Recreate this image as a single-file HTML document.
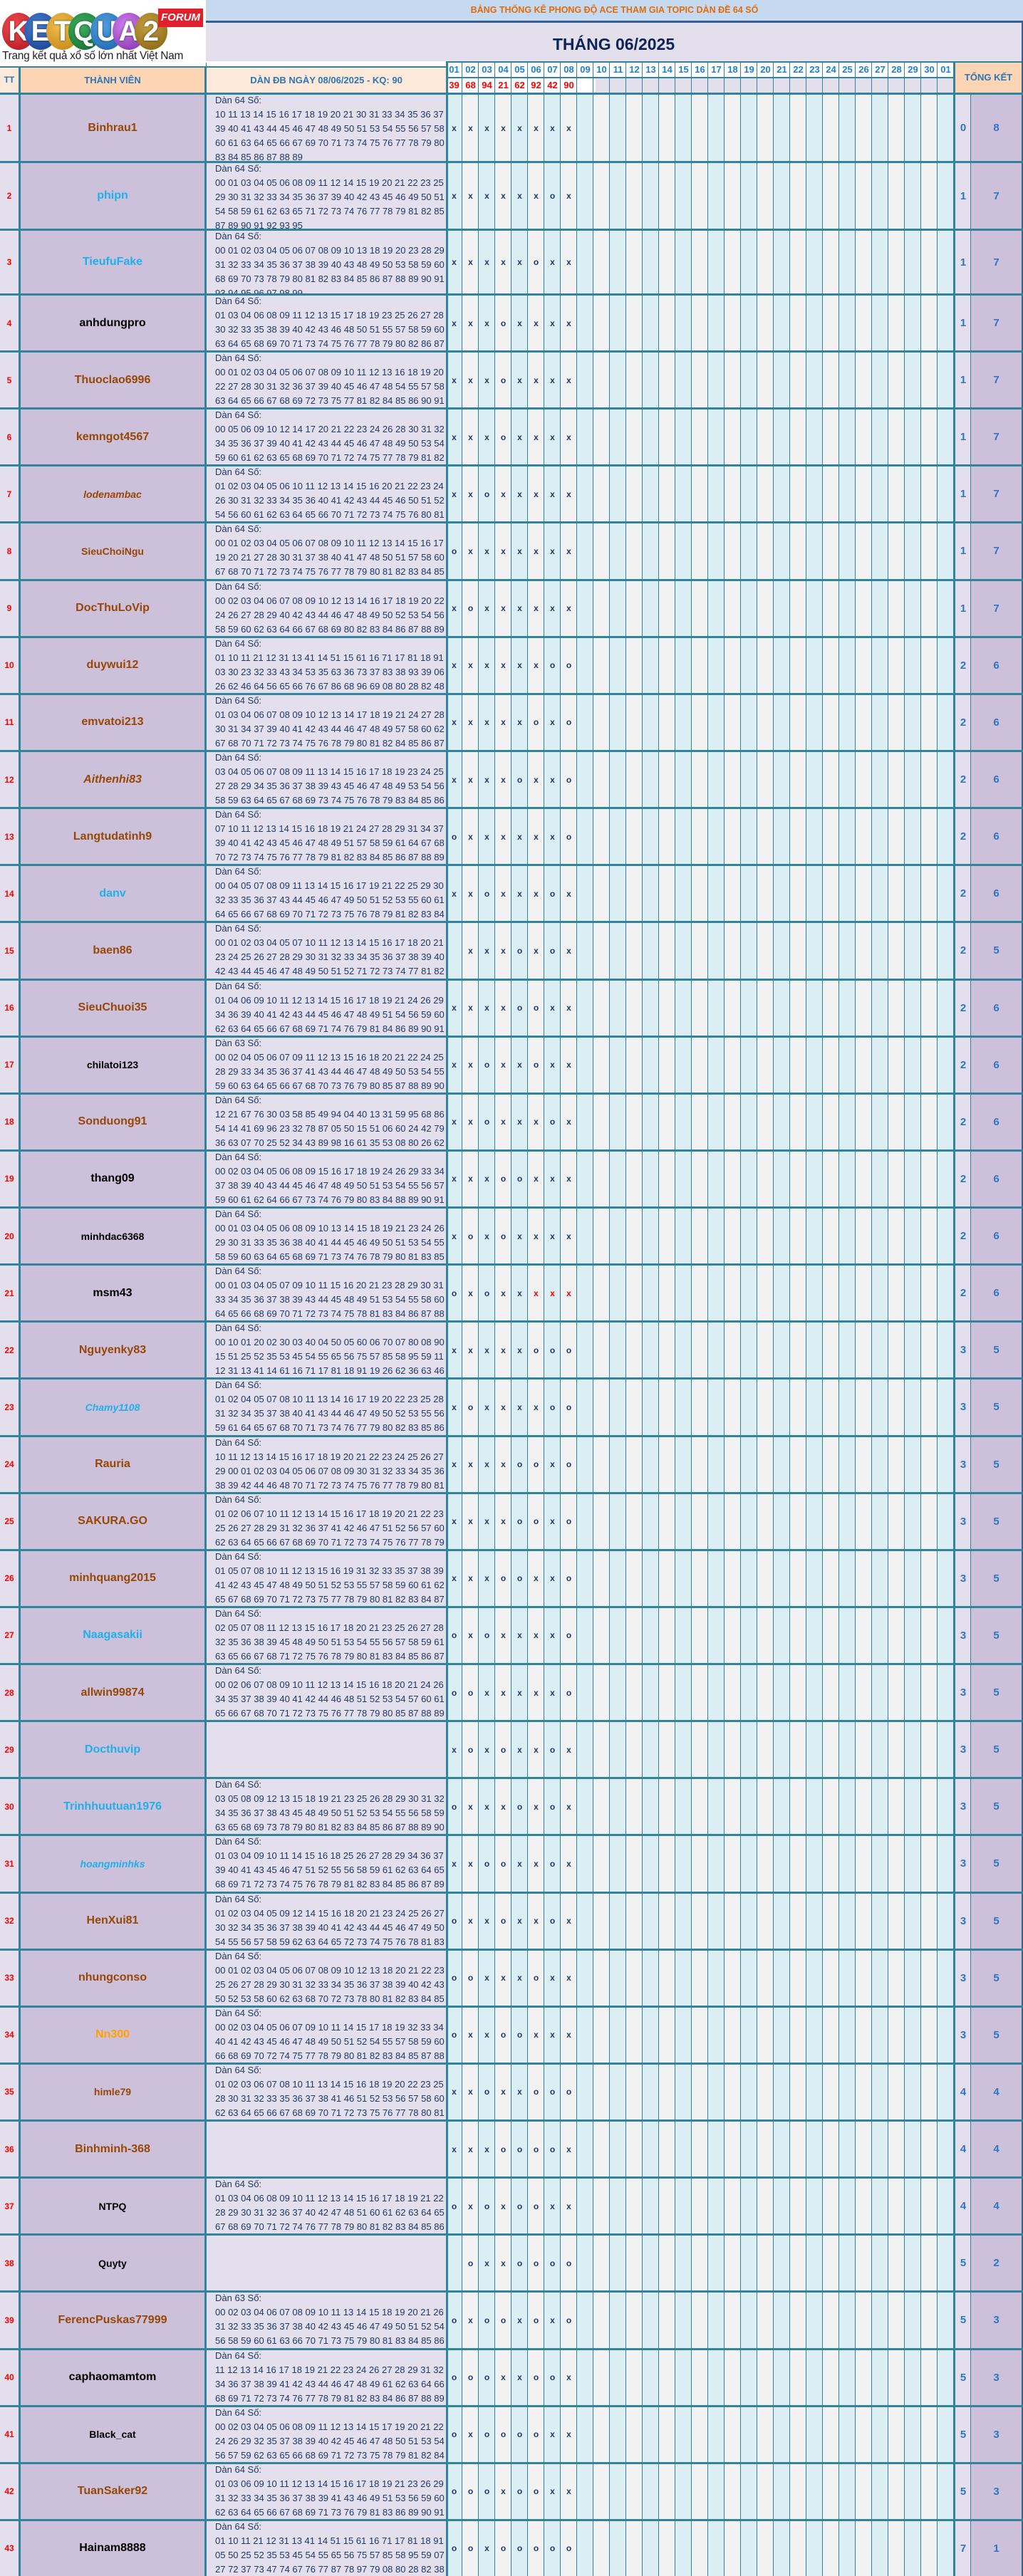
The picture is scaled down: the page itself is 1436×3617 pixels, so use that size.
<!DOCTYPE html>
<html><head><meta charset="utf-8">
<style>
*{margin:0;padding:0;box-sizing:border-box}
body{width:1436px;height:3617px;position:relative;overflow:hidden;background:#fff;font-family:"Liberation Sans",sans-serif}
.abs{position:absolute}
.r{position:absolute;left:0;width:1436px;border-top:3px solid #31849b}
.r>*{position:absolute;top:0;bottom:0;display:flex;align-items:center;justify-content:center;font-style:normal}
.t{left:0;width:26px;color:#f00;font-size:12px;font-weight:bold}
.n{left:29px;width:258px;font-size:16px;font-weight:bold;white-space:nowrap}
.n.sm{font-size:14px}
.n.it{font-style:italic}
.br{color:#974706}.bl{color:#1fb0ec}.bk{color:#000}.or{color:#ffa200}
.r>.d{left:302px;width:324px;top:-2px;display:block;font-size:13px;line-height:20px;color:#1f3864;white-space:nowrap;overflow:hidden}
.m{left:626px;width:713px;justify-content:flex-start!important}
.m i{display:block;width:23px;text-align:center;font-style:normal;font-weight:bold;font-size:12px;color:#1f3864}
.m i.rd{color:#f00}
.c{left:1341px;width:22px;color:#2e75c6;font-size:15px;font-weight:bold}
.s{left:1363px;width:71px;color:#2e75c6;font-size:15px;font-weight:bold}
.hd{position:absolute;top:88px;height:20px;width:23px;text-align:center;font-size:13px;font-weight:bold;color:#1f7fd0;line-height:20px}
.rs{position:absolute;top:110px;height:20px;width:23px;text-align:center;font-size:13px;font-weight:bold;color:#f00;line-height:20px}
.ball{position:absolute;top:18px;width:46px;height:52px;border-radius:50%;color:#fff;font-weight:bold;font-size:40px;line-height:52px;text-align:center;text-shadow:0 0 3px rgba(0,0,0,.6)}
</style></head><body>
<!-- column backgrounds -->
<div class="abs" style="left:0;top:93px;width:26px;height:3524px;background:#e4dfec"></div>
<div class="abs" style="left:26px;top:93px;width:3px;height:3524px;background:#31849b"></div>
<div class="abs" style="left:29px;top:93px;width:258px;height:3524px;background:#ccc0da"></div>
<div class="abs" style="left:287px;top:88px;width:3px;height:3529px;background:#31849b"></div>
<div class="abs" style="left:290px;top:93px;width:337px;height:3524px;background:#e4dfec"></div>
<div class="abs" style="left:626px;top:130px;width:713px;height:3487px;background:repeating-linear-gradient(90deg,#daeef3 0 22px,#31849b 22px 23px,#f2f2f2 23px 45px,#31849b 45px 46px)"></div>
<div class="abs" style="left:626px;top:86px;width:3px;height:3531px;background:#31849b"></div>
<div class="abs" style="left:1339px;top:86px;width:2px;height:3531px;background:#31849b"></div>
<div class="abs" style="left:1341px;top:130px;width:22px;height:3487px;background:#e4dfec"></div>
<div class="abs" style="left:1362px;top:130px;width:1px;height:3487px;background:#31849b"></div>
<div class="abs" style="left:1363px;top:130px;width:71px;height:3487px;background:#ccc0da"></div>
<div class="abs" style="left:1434px;top:0;width:2px;height:3617px;background:#366092"></div>

<!-- logo -->
<div class="abs" style="left:0;top:0;width:289px;height:93px;background:#fff"></div>
<div class="ball" style="left:3px;background:radial-gradient(circle at 40% 35%,#f05050,#b01020)">K</div>
<div class="ball" style="left:34px;background:radial-gradient(circle at 40% 35%,#4a7fd0,#123c8a)">E</div>
<div class="ball" style="left:65px;background:radial-gradient(circle at 40% 35%,#f0c050,#c08010)">T</div>
<div class="ball" style="left:96px;background:radial-gradient(circle at 40% 35%,#40b060,#0d6a2a)">Q</div>
<div class="ball" style="left:127px;background:radial-gradient(circle at 40% 35%,#50a0e0,#1a60a8)">U</div>
<div class="ball" style="left:158px;background:radial-gradient(circle at 40% 35%,#d080f0,#8030a8)">A</div>
<div class="ball" style="left:189px;background:radial-gradient(circle at 40% 35%,#c8a040,#806010)">2</div>
<div class="abs" style="left:222px;top:12px;width:63px;height:26px;background:#e0202a;color:#fff;font-weight:bold;font-style:italic;font-size:15px;line-height:26px;text-align:center">FORUM</div>
<div class="abs" style="left:3px;top:70px;font-size:15.5px;color:#222;white-space:nowrap;letter-spacing:-0.3px">Trang kết quả xổ số lớn nhất Việt Nam</div>

<!-- title -->
<div class="abs" style="left:289px;top:0;width:1147px;height:29px;background:#c5d9f1;color:#e26b0a;font-weight:bold;font-size:12.5px;line-height:29px;text-align:center">BẢNG THỐNG KÊ PHONG ĐỘ ACE THAM GIA TOPIC DÀN ĐỀ 64 SỐ</div>
<div class="abs" style="left:289px;top:29px;width:1147px;height:3px;background:#366092"></div>
<div class="abs" style="left:289px;top:32px;width:1145px;height:54px;background:#e4dfec;color:#0f2456;font-weight:bold;font-size:23px;line-height:60px;text-align:center">THÁNG 06/2025</div>

<!-- header row -->
<div class="abs" style="left:0;top:93px;width:1434px;height:2px;background:#31849b"></div>
<div class="abs" style="left:0;top:95px;width:26px;height:35px;background:#fde9d9;color:#2e75b6;font-weight:bold;font-size:12px;line-height:35px;text-align:center">TT</div>
<div class="abs" style="left:29px;top:95px;width:258px;height:35px;background:#fcd5b4;color:#2e75b6;font-weight:bold;font-size:13px;line-height:35px;text-align:center">THÀNH VIÊN</div>
<div class="abs" style="left:290px;top:95px;width:336px;height:35px;background:#fde9d9;color:#2e75b6;font-weight:bold;font-size:13px;line-height:35px;text-align:center">DÀN ĐB NGÀY 08/06/2025 - KQ: 90</div>
<div class="abs" style="left:629px;top:88px;width:710px;height:20px;background:#fff"></div>
<div class="abs" style="left:629px;top:110px;width:207px;height:20px;background:#fff"></div>
<div class="abs" style="left:836px;top:110px;width:503px;height:20px;background:#e4dfec"></div>
<div class="abs" style="left:626px;top:88px;width:713px;height:42px;background:repeating-linear-gradient(90deg,transparent 0 22px,#31849b 22px 23px)"></div>
<div class="abs" style="left:626px;top:108px;width:713px;height:2px;background:#31849b"></div>
<div class="abs" style="left:626px;top:86px;width:808px;height:2px;background:#31849b"></div>
<div class="abs" style="left:1341px;top:88px;width:93px;height:42px;background:#fcd5b4;color:#2e75b6;font-weight:bold;font-size:13px;line-height:42px;text-align:center">TỔNG KẾT</div>

<div class="hd" style="left:626px">01</div><div class="hd" style="left:649px">02</div><div class="hd" style="left:672px">03</div><div class="hd" style="left:695px">04</div><div class="hd" style="left:718px">05</div><div class="hd" style="left:741px">06</div><div class="hd" style="left:764px">07</div><div class="hd" style="left:787px">08</div><div class="hd" style="left:810px">09</div><div class="hd" style="left:833px">10</div><div class="hd" style="left:856px">11</div><div class="hd" style="left:879px">12</div><div class="hd" style="left:902px">13</div><div class="hd" style="left:925px">14</div><div class="hd" style="left:948px">15</div><div class="hd" style="left:971px">16</div><div class="hd" style="left:994px">17</div><div class="hd" style="left:1017px">18</div><div class="hd" style="left:1040px">19</div><div class="hd" style="left:1063px">20</div><div class="hd" style="left:1086px">21</div><div class="hd" style="left:1109px">22</div><div class="hd" style="left:1132px">23</div><div class="hd" style="left:1155px">24</div><div class="hd" style="left:1178px">25</div><div class="hd" style="left:1201px">26</div><div class="hd" style="left:1224px">27</div><div class="hd" style="left:1247px">28</div><div class="hd" style="left:1270px">29</div><div class="hd" style="left:1293px">30</div><div class="hd" style="left:1316px">01</div>
<div class="rs" style="left:626px">39</div><div class="rs" style="left:649px">68</div><div class="rs" style="left:672px">94</div><div class="rs" style="left:695px">21</div><div class="rs" style="left:718px">62</div><div class="rs" style="left:741px">92</div><div class="rs" style="left:764px">42</div><div class="rs" style="left:787px">90</div>

<!-- rows -->
<div class="r" style="top:130px;height:96px"><b class="t">1</b><b class="n br">Binhrau1</b><div class="d">Dàn 64 Số:<br>10 11 13 14 15 16 17 18 19 20 21 30 31 33 34 35 36 37 38<br>39 40 41 43 44 45 46 47 48 49 50 51 53 54 55 56 57 58 59<br>60 61 63 64 65 66 67 69 70 71 73 74 75 76 77 78 79 80 81<br>83 84 85 86 87 88 89</div><div class="m"><i>x</i><i>x</i><i>x</i><i>x</i><i>x</i><i>x</i><i>x</i><i>x</i></div><b class="c">0</b><b class="s">8</b></div>
<div class="r" style="top:226px;height:95px"><b class="t">2</b><b class="n bl">phipn</b><div class="d">Dàn 64 Số:<br>00 01 03 04 05 06 08 09 11 12 14 15 19 20 21 22 23 25 28<br>29 30 31 32 33 34 35 36 37 39 40 42 43 45 46 49 50 51 52<br>54 58 59 61 62 63 65 71 72 73 74 76 77 78 79 81 82 85 86<br>87 89 90 91 92 93 95</div><div class="m"><i>x</i><i>x</i><i>x</i><i>x</i><i>x</i><i>x</i><i>o</i><i>x</i></div><b class="c">1</b><b class="s">7</b></div>
<div class="r" style="top:321px;height:91px"><b class="t">3</b><b class="n bl">TieufuFake</b><div class="d">Dàn 64 Số:<br>00 01 02 03 04 05 06 07 08 09 10 13 18 19 20 23 28 29 30<br>31 32 33 34 35 36 37 38 39 40 43 48 49 50 53 58 59 60 63<br>68 69 70 73 78 79 80 81 82 83 84 85 86 87 88 89 90 91 92<br>93 94 95 96 97 98 99</div><div class="m"><i>x</i><i>x</i><i>x</i><i>x</i><i>x</i><i>o</i><i>x</i><i>x</i></div><b class="c">1</b><b class="s">7</b></div>
<div class="r" style="top:412px;height:80.2px"><b class="t">4</b><b class="n bk">anhdungpro</b><div class="d">Dàn 64 Số:<br>01 03 04 06 08 09 11 12 13 15 17 18 19 23 25 26 27 28 29<br>30 32 33 35 38 39 40 42 43 46 48 50 51 55 57 58 59 60 62<br>63 64 65 68 69 70 71 73 74 75 76 77 78 79 80 82 86 87 89</div><div class="m"><i>x</i><i>x</i><i>x</i><i>o</i><i>x</i><i>x</i><i>x</i><i>x</i></div><b class="c">1</b><b class="s">7</b></div>
<div class="r" style="top:492px;height:80.2px"><b class="t">5</b><b class="n br">Thuoclao6996</b><div class="d">Dàn 64 Số:<br>00 01 02 03 04 05 06 07 08 09 10 11 12 13 16 18 19 20 21<br>22 27 28 30 31 32 36 37 39 40 45 46 47 48 54 55 57 58 59<br>63 64 65 66 67 68 69 72 73 75 77 81 82 84 85 86 90 91 92</div><div class="m"><i>x</i><i>x</i><i>x</i><i>o</i><i>x</i><i>x</i><i>x</i><i>x</i></div><b class="c">1</b><b class="s">7</b></div>
<div class="r" style="top:572px;height:80.2px"><b class="t">6</b><b class="n br">kemngot4567</b><div class="d">Dàn 64 Số:<br>00 05 06 09 10 12 14 17 20 21 22 23 24 26 28 30 31 32 33<br>34 35 36 37 39 40 41 42 43 44 45 46 47 48 49 50 53 54 56<br>59 60 61 62 63 65 68 69 70 71 72 74 75 77 78 79 81 82 83</div><div class="m"><i>x</i><i>x</i><i>x</i><i>o</i><i>x</i><i>x</i><i>x</i><i>x</i></div><b class="c">1</b><b class="s">7</b></div>
<div class="r" style="top:652px;height:80.2px"><b class="t">7</b><b class="n br sm it">lodenambac</b><div class="d">Dàn 64 Số:<br>01 02 03 04 05 06 10 11 12 13 14 15 16 20 21 22 23 24 25<br>26 30 31 32 33 34 35 36 40 41 42 43 44 45 46 50 51 52 53<br>54 56 60 61 62 63 64 65 66 70 71 72 73 74 75 76 80 81 82</div><div class="m"><i>x</i><i>x</i><i>o</i><i>x</i><i>x</i><i>x</i><i>x</i><i>x</i></div><b class="c">1</b><b class="s">7</b></div>
<div class="r" style="top:732px;height:80.2px"><b class="t">8</b><b class="n br sm">SieuChoiNgu</b><div class="d">Dàn 64 Số:<br>00 01 02 03 04 05 06 07 08 09 10 11 12 13 14 15 16 17 18<br>19 20 21 27 28 30 31 37 38 40 41 47 48 50 51 57 58 60 61<br>67 68 70 71 72 73 74 75 76 77 78 79 80 81 82 83 84 85 86</div><div class="m"><i>o</i><i>x</i><i>x</i><i>x</i><i>x</i><i>x</i><i>x</i><i>x</i></div><b class="c">1</b><b class="s">7</b></div>
<div class="r" style="top:812.6px;height:80.2px"><b class="t">9</b><b class="n br">DocThuLoVip</b><div class="d">Dàn 64 Số:<br>00 02 03 04 06 07 08 09 10 12 13 14 16 17 18 19 20 22 23<br>24 26 27 28 29 40 42 43 44 46 47 48 49 50 52 53 54 56 57<br>58 59 60 62 63 64 66 67 68 69 80 82 83 84 86 87 88 89 90</div><div class="m"><i>x</i><i>o</i><i>x</i><i>x</i><i>x</i><i>x</i><i>x</i><i>x</i></div><b class="c">1</b><b class="s">7</b></div>
<div class="r" style="top:892.8px;height:80.2px"><b class="t">10</b><b class="n br">duywui12</b><div class="d">Dàn 64 Số:<br>01 10 11 21 12 31 13 41 14 51 15 61 16 71 17 81 18 91 19<br>03 30 23 32 33 43 34 53 35 63 36 73 37 83 38 93 39 06 60<br>26 62 46 64 56 65 66 76 67 86 68 96 69 08 80 28 82 48 84</div><div class="m"><i>x</i><i>x</i><i>x</i><i>x</i><i>x</i><i>x</i><i>o</i><i>o</i></div><b class="c">2</b><b class="s">6</b></div>
<div class="r" style="top:972.9px;height:80.2px"><b class="t">11</b><b class="n br">emvatoi213</b><div class="d">Dàn 64 Số:<br>01 03 04 06 07 08 09 10 12 13 14 17 18 19 21 24 27 28 29<br>30 31 34 37 39 40 41 42 43 44 46 47 48 49 57 58 60 62 64<br>67 68 70 71 72 73 74 75 76 78 79 80 81 82 84 85 86 87 89</div><div class="m"><i>x</i><i>x</i><i>x</i><i>x</i><i>x</i><i>o</i><i>x</i><i>o</i></div><b class="c">2</b><b class="s">6</b></div>
<div class="r" style="top:1053px;height:80.2px"><b class="t">12</b><b class="n br it">Aithenhi83</b><div class="d">Dàn 64 Số:<br>03 04 05 06 07 08 09 11 13 14 15 16 17 18 19 23 24 25 26<br>27 28 29 34 35 36 37 38 39 43 45 46 47 48 49 53 54 56 57<br>58 59 63 64 65 67 68 69 73 74 75 76 78 79 83 84 85 86 87</div><div class="m"><i>x</i><i>x</i><i>x</i><i>x</i><i>o</i><i>x</i><i>x</i><i>o</i></div><b class="c">2</b><b class="s">6</b></div>
<div class="r" style="top:1133.1px;height:80.2px"><b class="t">13</b><b class="n br">Langtudatinh9</b><div class="d">Dàn 64 Số:<br>07 10 11 12 13 14 15 16 18 19 21 24 27 28 29 31 34 37 38<br>39 40 41 42 43 45 46 47 48 49 51 57 58 59 61 64 67 68 69<br>70 72 73 74 75 76 77 78 79 81 82 83 84 85 86 87 88 89 91</div><div class="m"><i>o</i><i>x</i><i>x</i><i>x</i><i>x</i><i>x</i><i>x</i><i>o</i></div><b class="c">2</b><b class="s">6</b></div>
<div class="r" style="top:1213.3px;height:80.2px"><b class="t">14</b><b class="n bl">danv</b><div class="d">Dàn 64 Số:<br>00 04 05 07 08 09 11 13 14 15 16 17 19 21 22 25 29 30 31<br>32 33 35 36 37 43 44 45 46 47 49 50 51 52 53 55 60 61 62<br>64 65 66 67 68 69 70 71 72 73 75 76 78 79 81 82 83 84 87</div><div class="m"><i>x</i><i>x</i><i>o</i><i>x</i><i>x</i><i>x</i><i>o</i><i>x</i></div><b class="c">2</b><b class="s">6</b></div>
<div class="r" style="top:1293.4px;height:80.2px"><b class="t">15</b><b class="n br">baen86</b><div class="d">Dàn 64 Số:<br>00 01 02 03 04 05 07 10 11 12 13 14 15 16 17 18 20 21 22<br>23 24 25 26 27 28 29 30 31 32 33 34 35 36 37 38 39 40 41<br>42 43 44 45 46 47 48 49 50 51 52 71 72 73 74 77 81 82 83</div><div class="m"><i></i><i>x</i><i>x</i><i>x</i><i>o</i><i>x</i><i>o</i><i>x</i></div><b class="c">2</b><b class="s">5</b></div>
<div class="r" style="top:1373.5px;height:80.2px"><b class="t">16</b><b class="n br">SieuChuoi35</b><div class="d">Dàn 64 Số:<br>01 04 06 09 10 11 12 13 14 15 16 17 18 19 21 24 26 29 31<br>34 36 39 40 41 42 43 44 45 46 47 48 49 51 54 56 59 60 61<br>62 63 64 65 66 67 68 69 71 74 76 79 81 84 86 89 90 91 92</div><div class="m"><i>x</i><i>x</i><i>x</i><i>x</i><i>o</i><i>o</i><i>x</i><i>x</i></div><b class="c">2</b><b class="s">6</b></div>
<div class="r" style="top:1453.6px;height:80.2px"><b class="t">17</b><b class="n bk sm">chilatoi123</b><div class="d">Dàn 63 Số:<br>00 02 04 05 06 07 09 11 12 13 15 16 18 20 21 22 24 25 26<br>28 29 33 34 35 36 37 41 43 44 46 47 48 49 50 53 54 55 58<br>59 60 63 64 65 66 67 68 70 73 76 79 80 85 87 88 89 90 93</div><div class="m"><i>x</i><i>x</i><i>o</i><i>x</i><i>x</i><i>o</i><i>x</i><i>x</i></div><b class="c">2</b><b class="s">6</b></div>
<div class="r" style="top:1533.8px;height:80.2px"><b class="t">18</b><b class="n br">Sonduong91</b><div class="d">Dàn 64 Số:<br>12 21 67 76 30 03 58 85 49 94 04 40 13 31 59 95 68 86 45<br>54 14 41 69 96 23 32 78 87 05 50 15 51 06 60 24 42 79 97<br>36 63 07 70 25 52 34 43 89 98 16 61 35 53 08 80 26 62 17</div><div class="m"><i>x</i><i>x</i><i>o</i><i>x</i><i>x</i><i>x</i><i>o</i><i>x</i></div><b class="c">2</b><b class="s">6</b></div>
<div class="r" style="top:1613.9px;height:80.2px"><b class="t">19</b><b class="n bk">thang09</b><div class="d">Dàn 64 Số:<br>00 02 03 04 05 06 08 09 15 16 17 18 19 24 26 29 33 34 35<br>37 38 39 40 43 44 45 46 47 48 49 50 51 53 54 55 56 57 58<br>59 60 61 62 64 66 67 73 74 76 79 80 83 84 88 89 90 91 92</div><div class="m"><i>x</i><i>x</i><i>x</i><i>o</i><i>o</i><i>x</i><i>x</i><i>x</i></div><b class="c">2</b><b class="s">6</b></div>
<div class="r" style="top:1694px;height:80.2px"><b class="t">20</b><b class="n bk sm">minhdac6368</b><div class="d">Dàn 64 Số:<br>00 01 03 04 05 06 08 09 10 13 14 15 18 19 21 23 24 26 28<br>29 30 31 33 35 36 38 40 41 44 45 46 49 50 51 53 54 55 56<br>58 59 60 63 64 65 68 69 71 73 74 76 78 79 80 81 83 85 86</div><div class="m"><i>x</i><i>o</i><i>x</i><i>o</i><i>x</i><i>x</i><i>x</i><i>x</i></div><b class="c">2</b><b class="s">6</b></div>
<div class="r" style="top:1774.1px;height:80.2px"><b class="t">21</b><b class="n bk">msm43</b><div class="d">Dàn 64 Số:<br>00 01 03 04 05 07 09 10 11 15 16 20 21 23 28 29 30 31 32<br>33 34 35 36 37 38 39 43 44 45 48 49 51 53 54 55 58 60 63<br>64 65 66 68 69 70 71 72 73 74 75 78 81 83 84 86 87 88 89</div><div class="m"><i>o</i><i>x</i><i>o</i><i>x</i><i>x</i><i class="rd">x</i><i class="rd">x</i><i class="rd">x</i></div><b class="c">2</b><b class="s">6</b></div>
<div class="r" style="top:1854.3px;height:80.2px"><b class="t">22</b><b class="n br">Nguyenky83</b><div class="d">Dàn 64 Số:<br>00 10 01 20 02 30 03 40 04 50 05 60 06 70 07 80 08 90 09<br>15 51 25 52 35 53 45 54 55 65 56 75 57 85 58 95 59 11 21<br>12 31 13 41 14 61 16 71 17 81 18 91 19 26 62 36 63 46 64</div><div class="m"><i>x</i><i>x</i><i>x</i><i>x</i><i>x</i><i>o</i><i>o</i><i>o</i></div><b class="c">3</b><b class="s">5</b></div>
<div class="r" style="top:1934.4px;height:80.2px"><b class="t">23</b><b class="n bl sm it">Chamy1108</b><div class="d">Dàn 64 Số:<br>01 02 04 05 07 08 10 11 13 14 16 17 19 20 22 23 25 28 29<br>31 32 34 35 37 38 40 41 43 44 46 47 49 50 52 53 55 56 58<br>59 61 64 65 67 68 70 71 73 74 76 77 79 80 82 83 85 86 88</div><div class="m"><i>x</i><i>o</i><i>x</i><i>x</i><i>x</i><i>x</i><i>o</i><i>o</i></div><b class="c">3</b><b class="s">5</b></div>
<div class="r" style="top:2014.5px;height:80.2px"><b class="t">24</b><b class="n br">Rauria</b><div class="d">Dàn 64 Số:<br>10 11 12 13 14 15 16 17 18 19 20 21 22 23 24 25 26 27 28<br>29 00 01 02 03 04 05 06 07 08 09 30 31 32 33 34 35 36 37<br>38 39 42 44 46 48 70 71 72 73 74 75 76 77 78 79 80 81 82</div><div class="m"><i>x</i><i>x</i><i>x</i><i>x</i><i>o</i><i>o</i><i>x</i><i>o</i></div><b class="c">3</b><b class="s">5</b></div>
<div class="r" style="top:2094.6px;height:80.2px"><b class="t">25</b><b class="n br">SAKURA.GO</b><div class="d">Dàn 64 Số:<br>01 02 06 07 10 11 12 13 14 15 16 17 18 19 20 21 22 23 24<br>25 26 27 28 29 31 32 36 37 41 42 46 47 51 52 56 57 60 61<br>62 63 64 65 66 67 68 69 70 71 72 73 74 75 76 77 78 79 81</div><div class="m"><i>x</i><i>x</i><i>x</i><i>x</i><i>o</i><i>o</i><i>x</i><i>o</i></div><b class="c">3</b><b class="s">5</b></div>
<div class="r" style="top:2174.8px;height:80.2px"><b class="t">26</b><b class="n br">minhquang2015</b><div class="d">Dàn 64 Số:<br>01 05 07 08 10 11 12 13 15 16 19 31 32 33 35 37 38 39 40<br>41 42 43 45 47 48 49 50 51 52 53 55 57 58 59 60 61 62 63<br>65 67 68 69 70 71 72 73 75 77 78 79 80 81 82 83 84 87 89</div><div class="m"><i>x</i><i>x</i><i>x</i><i>o</i><i>o</i><i>x</i><i>x</i><i>o</i></div><b class="c">3</b><b class="s">5</b></div>
<div class="r" style="top:2254.9px;height:80.2px"><b class="t">27</b><b class="n bl">Naagasakii</b><div class="d">Dàn 64 Số:<br>02 05 07 08 11 12 13 15 16 17 18 20 21 23 25 26 27 28 31<br>32 35 36 38 39 45 48 49 50 51 53 54 55 56 57 58 59 61 62<br>63 65 66 67 68 71 72 75 76 78 79 80 81 83 84 85 86 87 88</div><div class="m"><i>o</i><i>x</i><i>o</i><i>x</i><i>x</i><i>x</i><i>x</i><i>o</i></div><b class="c">3</b><b class="s">5</b></div>
<div class="r" style="top:2335px;height:80.2px"><b class="t">28</b><b class="n br">allwin99874</b><div class="d">Dàn 64 Số:<br>00 02 06 07 08 09 10 11 12 13 14 15 16 18 20 21 24 26 33<br>34 35 37 38 39 40 41 42 44 46 48 51 52 53 54 57 60 61 62<br>65 66 67 68 70 71 72 73 75 76 77 78 79 80 85 87 88 89 90</div><div class="m"><i>o</i><i>o</i><i>x</i><i>x</i><i>x</i><i>x</i><i>x</i><i>o</i></div><b class="c">3</b><b class="s">5</b></div>
<div class="r" style="top:2415.1px;height:80.2px"><b class="t">29</b><b class="n bl">Docthuvip</b><div class="d"></div><div class="m"><i>x</i><i>o</i><i>x</i><i>o</i><i>x</i><i>x</i><i>o</i><i>x</i></div><b class="c">3</b><b class="s">5</b></div>
<div class="r" style="top:2495.3px;height:80.2px"><b class="t">30</b><b class="n bl">Trinhhuutuan1976</b><div class="d">Dàn 64 Số:<br>03 05 08 09 12 13 15 18 19 21 23 25 26 28 29 30 31 32 33<br>34 35 36 37 38 43 45 48 49 50 51 52 53 54 55 56 58 59 62<br>63 65 68 69 73 78 79 80 81 82 83 84 85 86 87 88 89 90 91</div><div class="m"><i>o</i><i>x</i><i>x</i><i>x</i><i>o</i><i>x</i><i>o</i><i>x</i></div><b class="c">3</b><b class="s">5</b></div>
<div class="r" style="top:2575.4px;height:80.2px"><b class="t">31</b><b class="n bl sm it">hoangminhks</b><div class="d">Dàn 64 Số:<br>01 03 04 09 10 11 14 15 16 18 25 26 27 28 29 34 36 37 38<br>39 40 41 43 45 46 47 51 52 55 56 58 59 61 62 63 64 65 67<br>68 69 71 72 73 74 75 76 78 79 81 82 83 84 85 86 87 89 90</div><div class="m"><i>x</i><i>x</i><i>o</i><i>o</i><i>x</i><i>x</i><i>o</i><i>x</i></div><b class="c">3</b><b class="s">5</b></div>
<div class="r" style="top:2655.5px;height:80.2px"><b class="t">32</b><b class="n br">HenXui81</b><div class="d">Dàn 64 Số:<br>01 02 03 04 05 09 12 14 15 16 18 20 21 23 24 25 26 27 29<br>30 32 34 35 36 37 38 39 40 41 42 43 44 45 46 47 49 50 52<br>54 55 56 57 58 59 62 63 64 65 72 73 74 75 76 78 81 83 84</div><div class="m"><i>o</i><i>x</i><i>x</i><i>o</i><i>x</i><i>x</i><i>o</i><i>x</i></div><b class="c">3</b><b class="s">5</b></div>
<div class="r" style="top:2735.6px;height:80.2px"><b class="t">33</b><b class="n br">nhungconso</b><div class="d">Dàn 64 Số:<br>00 01 02 03 04 05 06 07 08 09 10 12 13 18 20 21 22 23 24<br>25 26 27 28 29 30 31 32 33 34 35 36 37 38 39 40 42 43 48<br>50 52 53 58 60 62 63 68 70 72 73 78 80 81 82 83 84 85 86</div><div class="m"><i>o</i><i>o</i><i>x</i><i>x</i><i>x</i><i>o</i><i>x</i><i>x</i></div><b class="c">3</b><b class="s">5</b></div>
<div class="r" style="top:2815.8px;height:80.2px"><b class="t">34</b><b class="n or">Nn300</b><div class="d">Dàn 64 Số:<br>00 02 03 04 05 06 07 09 10 11 14 15 17 18 19 32 33 34 38<br>40 41 42 43 45 46 47 48 49 50 51 52 54 55 57 58 59 60 64<br>66 68 69 70 72 74 75 77 78 79 80 81 82 83 84 85 87 88 90</div><div class="m"><i>o</i><i>x</i><i>x</i><i>o</i><i>o</i><i>x</i><i>x</i><i>x</i></div><b class="c">3</b><b class="s">5</b></div>
<div class="r" style="top:2895.9px;height:80.2px"><b class="t">35</b><b class="n br sm">himle79</b><div class="d">Dàn 64 Số:<br>01 02 03 06 07 08 10 11 13 14 15 16 18 19 20 22 23 25 27<br>28 30 31 32 33 35 36 37 38 41 46 51 52 53 56 57 58 60 61<br>62 63 64 65 66 67 68 69 70 71 72 73 75 76 77 78 80 81 82</div><div class="m"><i>x</i><i>x</i><i>o</i><i>x</i><i>x</i><i>o</i><i>o</i><i>o</i></div><b class="c">4</b><b class="s">4</b></div>
<div class="r" style="top:2976px;height:80.2px"><b class="t">36</b><b class="n br">Binhminh-368</b><div class="d"></div><div class="m"><i>x</i><i>x</i><i>x</i><i>o</i><i>o</i><i>o</i><i>o</i><i>x</i></div><b class="c">4</b><b class="s">4</b></div>
<div class="r" style="top:3056.1px;height:80.2px"><b class="t">37</b><b class="n bk sm">NTPQ</b><div class="d">Dàn 64 Số:<br>01 03 04 06 08 09 10 11 12 13 14 15 16 17 18 19 21 22 27<br>28 29 30 31 32 36 37 40 42 47 48 51 60 61 62 63 64 65 66<br>67 68 69 70 71 72 74 76 77 78 79 80 81 82 83 84 85 86 87</div><div class="m"><i>o</i><i>x</i><i>o</i><i>x</i><i>o</i><i>o</i><i>x</i><i>x</i></div><b class="c">4</b><b class="s">4</b></div>
<div class="r" style="top:3136.3px;height:80.2px"><b class="t">38</b><b class="n bk sm">Quyty</b><div class="d"></div><div class="m"><i></i><i>o</i><i>x</i><i>x</i><i>o</i><i>o</i><i>o</i><i>o</i></div><b class="c">5</b><b class="s">2</b></div>
<div class="r" style="top:3216.4px;height:80.2px"><b class="t">39</b><b class="n br">FerencPuskas77999</b><div class="d">Dàn 63 Số:<br>00 02 03 04 06 07 08 09 10 11 13 14 15 18 19 20 21 26 29<br>31 32 33 35 36 37 38 40 42 43 45 46 47 49 50 51 52 54 55<br>56 58 59 60 61 63 66 70 71 73 75 79 80 81 83 84 85 86 87</div><div class="m"><i>o</i><i>x</i><i>o</i><i>o</i><i>x</i><i>o</i><i>x</i><i>o</i></div><b class="c">5</b><b class="s">3</b></div>
<div class="r" style="top:3296.5px;height:80.2px"><b class="t">40</b><b class="n bk">caphaomamtom</b><div class="d">Dàn 64 Số:<br>11 12 13 14 16 17 18 19 21 22 23 24 26 27 28 29 31 32 33<br>34 36 37 38 39 41 42 43 44 46 47 48 49 61 62 63 64 66 67<br>68 69 71 72 73 74 76 77 78 79 81 82 83 84 86 87 88 89 91</div><div class="m"><i>o</i><i>o</i><i>o</i><i>x</i><i>x</i><i>o</i><i>o</i><i>x</i></div><b class="c">5</b><b class="s">3</b></div>
<div class="r" style="top:3376.6px;height:80.2px"><b class="t">41</b><b class="n bk sm">Black_cat</b><div class="d">Dàn 64 Số:<br>00 02 03 04 05 06 08 09 11 12 13 14 15 17 19 20 21 22 23<br>24 26 29 32 35 37 38 39 40 42 45 46 47 48 50 51 53 54 55<br>56 57 59 62 63 65 66 68 69 71 72 73 75 78 79 81 82 84 86</div><div class="m"><i>o</i><i>x</i><i>o</i><i>o</i><i>o</i><i>o</i><i>x</i><i>x</i></div><b class="c">5</b><b class="s">3</b></div>
<div class="r" style="top:3456.8px;height:80.2px"><b class="t">42</b><b class="n br">TuanSaker92</b><div class="d">Dàn 64 Số:<br>01 03 06 09 10 11 12 13 14 15 16 17 18 19 21 23 26 29 30<br>31 32 33 34 35 36 37 38 39 41 43 46 49 51 53 56 59 60 61<br>62 63 64 65 66 67 68 69 71 73 76 79 81 83 86 89 90 91 92</div><div class="m"><i>o</i><i>o</i><i>o</i><i>x</i><i>o</i><i>o</i><i>x</i><i>x</i></div><b class="c">5</b><b class="s">3</b></div>
<div class="r" style="top:3536.9px;height:80.2px"><b class="t">43</b><b class="n bk">Hainam8888</b><div class="d">Dàn 64 Số:<br>01 10 11 21 12 31 13 41 14 51 15 61 16 71 17 81 18 91 19<br>05 50 25 52 35 53 45 54 55 65 56 75 57 85 58 95 59 07 70<br>27 72 37 73 47 74 67 76 77 87 78 97 79 08 80 28 82 38 83</div><div class="m"><i>o</i><i>o</i><i>x</i><i>o</i><i>o</i><i>o</i><i>o</i><i>o</i></div><b class="c">7</b><b class="s">1</b></div>
</body></html>
